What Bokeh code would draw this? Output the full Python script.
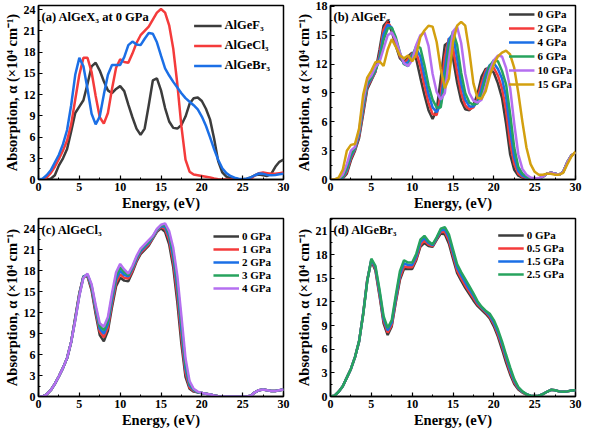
from bokeh.plotting import figure
from bokeh.layouts import gridplot
from bokeh.models import FixedTicker, Label, Range1d
from bokeh.embed import file_html
from bokeh.resources import INLINE

# ---------------- data (absorption, x10^4 cm^-1) ----------------
energy = [0, 0.5, 1, 1.5, 2, 2.5, 3, 3.5, 4, 4.5, 5, 5.5, 6, 6.5, 7, 7.5, 8, 8.5, 9, 9.5,
          10, 10.5, 11, 11.5, 12, 12.5, 13, 13.5, 14, 14.5, 15, 15.5, 16, 16.5, 17, 17.5,
          18, 18.5, 19, 19.5, 20, 20.5, 21, 21.5, 22, 22.5, 23, 23.5, 24, 24.5, 25, 25.5,
          26, 26.5, 27, 27.5, 28, 28.5, 29, 29.5, 30]

# AlGeF3 under pressure
f_0 = [0, 0, 0, 0.1, 0.6, 2.0, 3.0, 4.3, 6.8, 9.4, 10.3, 11.2, 13.5, 16.0, 16.5, 15.4, 13.9, 12.6, 12.2, 12.8,
       13.2, 12.5, 10.6, 8.8, 7.2, 6.3, 7.2, 10.5, 14.0, 14.3, 12.6, 10.1, 8.2, 7.3, 7.2, 7.7,
       8.9, 10.7, 11.5, 11.6, 11.1, 10.0, 8.5, 5.8, 2.6, 1.0, 0.4, 0.2, 0.1, 0.05, 0.05, 0.1,
       0.3, 0.6, 0.7, 0.6, 0.5, 0.8, 1.8, 2.5, 2.8]
f_2 = [0, 0, 0, 0.15, 0.8, 2.2, 3.1, 4.5, 7.1, 9.6, 10.4, 11.2, 13.0, 15.6, 16.4, 15.7, 14.2, 12.8, 12.1, 12.5,
       13.1, 13.2, 11.8, 9.8, 8.0, 6.8, 6.7, 8.8, 12.8, 14.7, 13.7, 11.2, 9.0, 7.7, 7.3, 7.5,
       8.4, 10.0, 11.3, 11.8, 11.6, 10.8, 9.5, 7.2, 3.8, 1.6, 0.6, 0.3, 0.15, 0.05, 0.05, 0.1,
       0.3, 0.6, 0.7, 0.6, 0.5, 0.8, 1.8, 2.5, 2.8]
f_4 = [0, 0, 0, 0.2, 1.0, 2.4, 3.2, 4.7, 7.4, 9.8, 10.5, 11.3, 12.7, 15.1, 16.1, 15.8, 14.5, 13.0, 12.0, 12.2,
       13.0, 13.6, 12.8, 10.8, 8.9, 7.5, 7.0, 7.8, 11.5, 14.6, 15.1, 12.6, 10.0, 8.3, 7.6, 7.6,
       8.1, 9.4, 11.0, 11.9, 12.1, 11.5, 10.5, 8.6, 5.2, 2.3, 0.9, 0.4, 0.2, 0.1, 0.05, 0.1,
       0.3, 0.6, 0.7, 0.6, 0.5, 0.8, 1.8, 2.5, 2.8]
f_6 = [0, 0, 0.05, 0.3, 1.2, 2.6, 3.3, 4.9, 7.7, 10.0, 10.6, 11.4, 12.4, 14.5, 15.7, 15.8, 14.8, 13.2, 12.0, 11.8,
       12.8, 13.9, 13.7, 11.9, 9.8, 8.3, 7.5, 7.5, 10.2, 13.9, 15.4, 14.0, 11.1, 9.0, 8.0, 7.8,
       7.9, 8.9, 10.5, 11.8, 12.4, 12.3, 11.3, 9.9, 6.8, 3.3, 1.3, 0.6, 0.3, 0.1, 0.05, 0.1,
       0.3, 0.6, 0.7, 0.6, 0.5, 0.8, 1.8, 2.5, 2.8]
f_10 = [0, 0, 0.1, 0.5, 1.6, 3.0, 3.4, 5.1, 8.1, 10.3, 10.8, 11.7, 12.2, 13.6, 15.0, 15.3, 14.5, 13.2, 12.1, 11.8,
        12.4, 14.0, 15.0, 15.3, 13.9, 11.0, 9.1, 8.3, 9.0, 12.5, 15.4, 15.9, 14.2, 11.0, 9.0, 8.2,
        8.0, 8.3, 9.6, 11.3, 12.4, 12.9, 12.8, 11.6, 9.5, 5.8, 2.6, 1.1, 0.5, 0.2, 0.1, 0.15,
        0.3, 0.6, 0.7, 0.6, 0.5, 0.8, 1.8, 2.5, 2.8]
f_15 = [0, 0, 0.2, 1.0, 3.0, 3.6, 3.7, 5.3, 8.8, 10.6, 11.3, 12.2, 12.3, 11.8, 13.5, 14.6, 13.8, 12.9, 12.6, 12.9,
        12.3, 13.0, 14.8, 15.5, 16.0, 15.9, 14.3, 11.5, 9.5, 10.5, 14.3, 16.0, 16.4, 16.0, 13.3, 10.0,
        8.5, 8.4, 9.2, 10.8, 12.0, 12.8, 13.2, 13.4, 13.0, 11.6, 9.0, 6.0, 3.3, 1.6, 0.8, 0.5,
        0.5, 0.6, 0.6, 0.5, 0.5, 0.7, 1.6, 2.4, 2.9]

# AlGeCl3 under pressure
cl_0 = [0, 0, 0.3, 0.9, 1.8, 2.9, 4.1, 5.5, 7.8, 11.3, 14.8, 17.2, 17.2, 15.2, 11.8, 8.8, 7.9, 9.4, 12.8, 15.8,
        17.0, 16.6, 16.5, 17.8, 19.3, 20.4, 21.0, 21.6, 22.6, 23.6, 24.1, 23.6, 21.8, 18.5, 13.5, 7.5,
        2.8, 1.1, 0.7, 0.6, 0.5, 0.4, 0.3, 0.15, 0.05, 0, 0, 0, 0, 0, 0, 0,
        0.1, 0.6, 0.9, 1.0, 0.9, 0.8, 0.8, 0.9, 1.0]
cl_1 = [0, 0, 0.3, 0.9, 1.8, 2.9, 4.1, 5.5, 7.8, 11.2, 14.7, 17.2, 17.3, 15.5, 12.2, 9.3, 8.5, 9.9, 13.3, 16.3,
        17.5, 17.0, 16.9, 18.0, 19.5, 20.6, 21.2, 21.8, 22.7, 23.7, 24.3, 24.0, 22.4, 19.3, 14.5, 8.5,
        3.4, 1.3, 0.8, 0.6, 0.5, 0.4, 0.3, 0.15, 0.05, 0, 0, 0, 0, 0, 0, 0,
        0.1, 0.6, 0.9, 1.0, 0.9, 0.8, 0.8, 0.9, 1.0]
cl_2 = [0, 0, 0.3, 0.9, 1.8, 2.9, 4.1, 5.5, 7.8, 11.1, 14.6, 17.2, 17.4, 15.7, 12.5, 9.7, 9.0, 10.4, 13.8, 16.8,
        18.0, 17.4, 17.2, 18.3, 19.7, 20.8, 21.4, 22.0, 22.8, 23.8, 24.4, 24.3, 22.9, 20.0, 15.5, 9.5,
        4.0, 1.6, 0.9, 0.6, 0.5, 0.4, 0.3, 0.15, 0.05, 0, 0, 0, 0, 0, 0, 0,
        0.1, 0.6, 0.9, 1.0, 0.9, 0.8, 0.8, 0.9, 1.0]
cl_3 = [0, 0, 0.3, 0.9, 1.8, 2.9, 4.1, 5.5, 7.8, 11.0, 14.5, 17.1, 17.5, 15.9, 12.8, 10.1, 9.5, 10.9, 14.3, 17.3,
        18.5, 17.8, 17.4, 18.5, 19.9, 21.0, 21.6, 22.2, 22.9, 23.9, 24.5, 24.6, 23.3, 20.7, 16.4, 10.5,
        4.7, 1.9, 1.0, 0.6, 0.5, 0.4, 0.3, 0.15, 0.05, 0, 0, 0, 0, 0, 0, 0,
        0.1, 0.6, 0.9, 1.0, 0.9, 0.8, 0.8, 0.9, 1.0]
cl_4 = [0, 0, 0.3, 0.9, 1.8, 2.9, 4.1, 5.5, 7.8, 10.9, 14.4, 17.0, 17.6, 16.1, 13.1, 10.5, 10.0, 11.4, 14.8, 17.8,
        19.0, 18.2, 17.6, 18.7, 20.1, 21.2, 21.8, 22.4, 23.0, 24.0, 24.6, 24.8, 23.7, 21.3, 17.3, 11.5,
        5.5, 2.2, 1.1, 0.7, 0.5, 0.4, 0.3, 0.15, 0.05, 0, 0, 0, 0, 0, 0, 0,
        0.1, 0.6, 0.9, 1.0, 0.9, 0.8, 0.8, 0.9, 1.0]

# AlGeBr3 under pressure
br_0 = [0, 0.1, 0.6, 1.3, 2.4, 3.5, 5.0, 7.0, 10.5, 14.8, 17.2, 16.0, 12.8, 9.3, 7.8, 8.9, 12.0, 14.8, 16.2, 16.2,
        16.2, 17.3, 19.0, 19.5, 19.1, 19.0, 19.9, 20.7, 20.6, 19.4, 17.5, 15.7, 14.7, 13.8, 13.0, 12.2,
        11.5, 11.0, 10.5, 9.9, 8.9, 7.6, 6.0, 4.3, 2.8, 1.6, 0.9, 0.5, 0.25, 0.1, 0.05, 0.1,
        0.3, 0.6, 0.85, 0.8, 0.65, 0.6, 0.65, 0.75, 0.8]
br_05 = [0, 0.1, 0.6, 1.3, 2.4, 3.5, 5.0, 7.0, 10.5, 14.8, 17.3, 16.2, 13.0, 9.6, 8.1, 9.1, 12.2, 15.1, 16.5, 16.4,
         16.4, 17.5, 19.2, 19.8, 19.3, 19.1, 20.0, 20.9, 20.9, 19.8, 17.9, 16.0, 15.0, 14.1, 13.3, 12.5,
         11.7, 11.2, 10.7, 10.1, 9.2, 7.9, 6.4, 4.7, 3.1, 1.8, 1.0, 0.55, 0.25, 0.1, 0.05, 0.1,
         0.3, 0.6, 0.85, 0.8, 0.65, 0.6, 0.65, 0.75, 0.8]
br_15 = [0, 0.1, 0.6, 1.3, 2.4, 3.5, 5.0, 7.0, 10.5, 14.7, 17.4, 16.4, 13.3, 9.9, 8.4, 9.4, 12.5, 15.5, 16.9, 16.7,
         16.7, 17.8, 19.6, 20.1, 19.5, 19.2, 20.1, 21.1, 21.2, 20.2, 18.3, 16.4, 15.4, 14.5, 13.6, 12.8,
         11.9, 11.3, 10.8, 10.3, 9.4, 8.2, 6.7, 5.0, 3.4, 2.0, 1.1, 0.6, 0.3, 0.1, 0.05, 0.1,
         0.3, 0.6, 0.85, 0.8, 0.65, 0.6, 0.65, 0.75, 0.8]
br_25 = [0, 0.1, 0.6, 1.3, 2.4, 3.5, 5.0, 7.0, 10.4, 14.6, 17.5, 16.6, 13.6, 10.2, 8.7, 9.7, 12.9, 15.9, 17.3, 17.0,
         17.0, 18.1, 19.9, 20.4, 19.7, 19.3, 20.2, 21.3, 21.5, 20.6, 18.7, 16.8, 15.8, 14.9, 14.0, 13.1,
         12.1, 11.4, 10.9, 10.5, 9.7, 8.5, 7.0, 5.3, 3.7, 2.2, 1.2, 0.65, 0.3, 0.1, 0.05, 0.1,
         0.3, 0.6, 0.85, 0.8, 0.65, 0.6, 0.65, 0.75, 0.8]

x_ticks = [0, 5, 10, 15, 20, 25, 30]
x_minor = [2.5, 7.5, 12.5, 17.5, 22.5, 27.5]

# ---------------- styling ----------------
FONT = "Liberation Serif"
BLACK = "#3c3c3c"
RED = "#f43b3b"
BLUE = "#1b6fe6"
GREEN = "#27a35e"
PURPLE = "#b56ff0"
GOLD = "#d3a00f"


def make_panel(title, ymax, ytop_tick, series, height, leg_font, leg_spacing, leg_glyph_h,
               leg_margin, glyph_w, ml, mr):
    p = figure(width=292, height=height, x_range=Range1d(0, 30), y_range=Range1d(0, ymax),
               output_backend="svg", toolbar_location=None,
               min_border_left=ml, min_border_right=mr, min_border_top=5, min_border_bottom=34)
    for ys, color, lab in series:
        p.line(energy, ys, line_color=color, line_width=2.5, legend_label=lab)
    yt = list(range(0, ytop_tick + 1, 3))
    ym = [v + 1.5 for v in yt]
    p.xaxis.ticker = FixedTicker(ticks=x_ticks, minor_ticks=x_minor)
    p.yaxis.ticker = FixedTicker(ticks=yt, minor_ticks=ym)
    p.xaxis.axis_label = "Energy, (eV)"
    p.yaxis.axis_label = "Absorption, α (×10⁴ cm⁻¹)"
    for ax in (p.xaxis[0], p.yaxis[0]):
        ax.axis_label_text_font = FONT
        ax.axis_label_text_font_style = "bold"
        ax.axis_label_text_font_size = "14.5px"
        ax.axis_label_text_color = "black"
        ax.major_label_text_font = FONT
        ax.major_label_text_font_style = "bold"
        ax.major_label_text_font_size = "12px"
        ax.major_label_text_color = "black"
        ax.major_tick_in = 4
        ax.major_tick_out = 0
        ax.minor_tick_in = 2
        ax.minor_tick_out = 0
        ax.axis_line_width = 1.5
        ax.major_tick_line_width = 1.2
        ax.minor_tick_line_width = 1
        ax.major_label_standoff = 3
        ax.axis_label_standoff = 1
    p.xgrid.visible = False
    p.ygrid.visible = False
    p.outline_line_color = "black"
    p.outline_line_width = 1.5
    p.outline_line_alpha = 1
    p.add_layout(Label(x=0, y=ymax, text=title, text_baseline="top", x_offset=3, y_offset=-4,
                       text_font=FONT, text_font_style="bold", text_font_size="12.5px",
                       text_color="black"))
    lg = p.legend[0]
    lg.location = "top_right"
    lg.background_fill_alpha = 0
    lg.border_line_alpha = 0
    lg.label_text_font = FONT
    lg.label_text_font_style = "bold"
    lg.label_text_font_size = leg_font
    lg.label_text_color = "black"
    lg.glyph_width = glyph_w
    lg.glyph_height = leg_glyph_h
    lg.label_height = leg_glyph_h
    lg.spacing = leg_spacing
    lg.padding = 2
    lg.margin = leg_margin
    lg.label_standoff = 3
    return p


pa = make_panel("(a) AlGeX₃ at 0 GPa", 24.6, 24,
                [(f_0, BLACK, "AlGeF₃"), (cl_0, RED, "AlGeCl₃"), (br_0, BLUE, "AlGeBr₃")],
                213, "12.5px", 5, 13, 11, 28, 34, 9)
pb = make_panel("(b) AlGeF₃", 18.1, 18,
                [(f_0, BLACK, "0 GPa"), (f_2, RED, "2 GPa"), (f_4, BLUE, "4 GPa"),
                 (f_6, GREEN, "6 GPa"), (f_10, PURPLE, "10 GPa"), (f_15, GOLD, "15 GPa")],
                213, "11px", 2, 12, 1, 26, 34, 9)
pc = make_panel("(c) AlGeCl₃", 25.5, 24,
                [(cl_0, BLACK, "0 GPa"), (cl_1, RED, "1 GPa"), (cl_2, BLUE, "2 GPa"),
                 (cl_3, GREEN, "3 GPa"), (cl_4, PURPLE, "4 GPa")],
                217, "11px", 1, 12, 10, 26, 34, 9)
pd = make_panel("(d) AlGeBr₃", 22.6, 21,
                [(br_0, BLACK, "0 GPa"), (br_05, RED, "0.5 GPa"), (br_15, BLUE, "1.5 GPa"),
                 (br_25, GREEN, "2.5 GPa")],
                217, "11px", 1, 12, 9, 26, 34, 9)

grid = gridplot([[pa, pb], [pc, pd]], toolbar_location=None)

open("out.html", "w").write(file_html(grid, INLINE))
